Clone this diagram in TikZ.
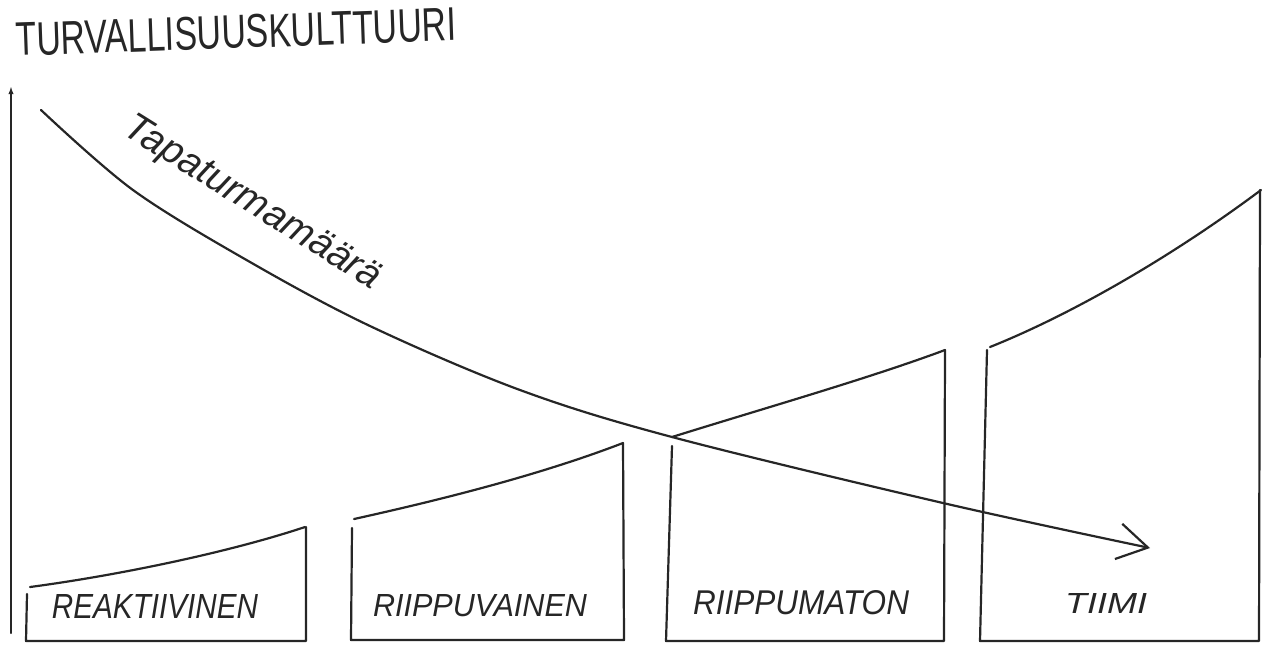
\documentclass[tikz,border=0pt]{standalone}
\usepackage{fontspec}
\setmainfont{Liberation Sans}
\usepackage{graphicx}
\usetikzlibrary{arrows.meta}
\tikzset{
  ink/.style={line width=1.1pt, line cap=round, line join=round, draw=black!85},
  lbl/.style={inner sep=0pt, text=black!85},
}
\begin{document}
\begin{tikzpicture}[x=0.5pt,y=-0.5pt]
\useasboundingbox (0,0) rectangle (1262,644);
% title
\node[lbl, rotate=2] (title) at (236,32) {\resizebox{220pt}{16.5pt}{TURVALLISUUSKULTTUURI}};
% vertical axis
\coordinate (axb) at (11,633);
\coordinate (axt) at (11,86);
\draw[ink, -{Latex[length=4pt,width=2.6pt]}] (axb) -- (axt);
% box 1
\draw[ink] (30,587) .. controls (120,575) and (230,552) .. (305,527);
\draw[ink] (27,594) -- (26,641) -- (306,641) -- (306,527);
% box 2
\draw[ink] (354,519) .. controls (440,500) and (540,475) .. (623,443);
\draw[ink] (352,528) -- (351,640) -- (624,640) -- (623,443);
% box 3
\draw[ink] (672,437) .. controls (765,408) and (870,378) .. (945,350);
\draw[ink] (672,446) -- (666,641) -- (944,641) -- (945,350);
% box 4
\draw[ink] (990,347) .. controls (1070,315) and (1170,258) .. (1261,190);
\draw[ink] (987,350) -- (980,641) -- (1259,641) -- (1260,190);
% labels
\node[lbl] (l1) at (155,606) {\resizebox{103pt}{12pt}{\itshape REAKTIIVINEN}};
\node[lbl] (l2) at (480,606) {\resizebox{107pt}{11pt}{\itshape RIIPPUVAINEN}};
\node[lbl] (l3) at (801,603) {\resizebox{108pt}{12pt}{\itshape RIIPPUMATON}};
\node[lbl] (l4) at (1106,603) {\resizebox{41pt}{10pt}{\itshape TIIMI}};
% accident-rate curve
\coordinate (cs) at (41,110);
\coordinate (ce) at (1150,548);
\draw[ink, -{Straight Barb[length=15pt,width=18pt,line width=1.1pt]}]
  plot[smooth, tension=0.55] coordinates {(cs) (133,190) (250,262) (370,326) (520,390) (672,437) (943,503) (ce)};
\node[lbl, rotate=-32, font=\fontsize{19.5}{20}\selectfont\itshape] (cl) at (252,204) {Tapaturmamäärä};
\end{tikzpicture}
\end{document}
